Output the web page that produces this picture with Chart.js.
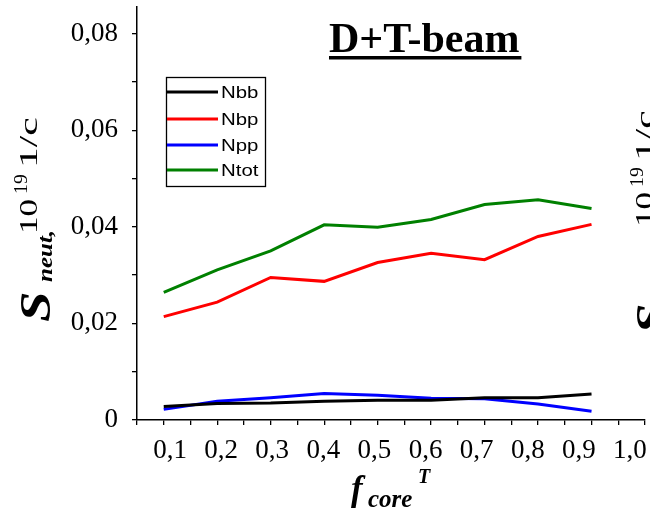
<!DOCTYPE html>
<html>
<head>
<meta charset="utf-8">
<style>
  html, body { margin: 0; padding: 0; background: #fff; }
  #wrap { width: 650px; height: 513px; }
</style>
<script src="https://cdn.jsdelivr.net/npm/chart.js@4.4.0/dist/chart.umd.min.js"></script>
</head>
<body>
<div id="wrap"><canvas id="chart" width="650" height="513"></canvas></div>
<script>
// f_core^T values (x) and neutron source components
const fCore = [0.1, 0.2, 0.3, 0.4, 0.5, 0.6, 0.7, 0.8, 0.9];
const nbb  = [0.0028, 0.0034, 0.0035, 0.0039, 0.0041, 0.0041, 0.0046, 0.0046, 0.0054];
const nbp  = [0.0214, 0.0244, 0.0295, 0.0287, 0.0326, 0.0345, 0.0332, 0.0380, 0.0405];
const npp  = [0.0022, 0.0039, 0.0046, 0.0055, 0.0051, 0.0045, 0.0044, 0.0033, 0.0018];
const ntot = [0.0264, 0.0311, 0.0350, 0.0404, 0.0399, 0.0415, 0.0446, 0.0456, 0.0438];

const seriesNames = ['Nbb', 'Nbp', 'Npp', 'Ntot'];
const seriesColors = ['#000000', '#ff0000', '#0000ff', '#008000'];
const seriesValues = [nbb, nbp, npp, ntot];

const serif = '"Liberation Serif", "Times New Roman", serif';
const sans = '"Liberation Sans", Arial, sans-serif';

function toPoints(vals) {
  return fCore.map((x, i) => ({ x: x, y: vals[i] }));
}

// draws text rotated -90deg, starting at (x, y) and going upward
function rotText(ctx, text, font, x, y, sx) {
  ctx.save();
  ctx.translate(x, y);
  ctx.rotate(-Math.PI / 2);
  ctx.scale(sx, 1);
  ctx.font = font;
  ctx.textAlign = 'left';
  ctx.textBaseline = 'alphabetic';
  ctx.fillStyle = '#000';
  ctx.fillText(text, 0, 0);
  ctx.restore();
}

function drawYTitle(ctx, dx, dy, dyS) {
  rotText(ctx, 'S', 'italic bold 44px ' + serif, 50 + dx, 322 + dy + dyS, 1.25);
  rotText(ctx, 'neut,', 'italic bold 20px ' + serif, 52 + dx, 282 + dy, 1.25);
  rotText(ctx, '10', '25px ' + serif, 37 + dx, 234 + dy, 1.4);
  rotText(ctx, '19', '18px ' + serif, 27 + dx, 194 + dy, 1.1);
  rotText(ctx, '1/c', '26px ' + serif, 37 + dx, 168 + dy, 1.6);
}

const decorPlugin = {
  id: 'decor',
  afterDraw(chart) {
    const ctx = chart.ctx;
    ctx.save();

    // title
    ctx.fillStyle = '#000';
    ctx.font = 'bold 42px ' + serif;
    ctx.textAlign = 'left';
    ctx.textBaseline = 'alphabetic';
    ctx.fillText('D+T-beam', 329, 52);
    const w = ctx.measureText('D+T-beam').width;
    ctx.fillRect(329, 56, w + 2, 3.5);

    // y title, and the clipped one of the neighbouring panel
    drawYTitle(ctx, 0, 0, 0);
    drawYTitle(ctx, 616, -7, 19);

    // x title f_core^T
    ctx.font = 'italic bold 35px ' + serif;
    ctx.fillText('f', 351, 500);
    ctx.font = 'italic bold 25px ' + serif;
    ctx.fillText('core', 368, 507);
    ctx.font = 'italic bold 20px ' + serif;
    ctx.fillText('T', 418, 483);

    // legend box
    ctx.strokeStyle = '#000';
    ctx.lineWidth = 1.3;
    ctx.strokeRect(166.5, 77.5, 99, 109);
    const rows = [92, 119, 145, 170];
    chart.data.datasets.forEach((ds, i) => {
      ctx.strokeStyle = ds.borderColor;
      ctx.lineWidth = 3;
      ctx.beginPath();
      ctx.moveTo(167, rows[i]);
      ctx.lineTo(218, rows[i]);
      ctx.stroke();
      ctx.save();
      ctx.translate(221, rows[i] + 1);
      ctx.scale(1.2, 1);
      ctx.font = '17px ' + sans;
      ctx.textBaseline = 'middle';
      ctx.fillStyle = '#000';
      ctx.fillText(ds.label, 0, 0);
      ctx.restore();
    });
    ctx.restore();
  }
};

const axisGrid = { drawOnChartArea: false, drawTicks: true, tickLength: 5, color: '#000', lineWidth: 1.3 };

new Chart(document.getElementById('chart'), {
  type: 'line',
  data: {
    datasets: seriesNames.map((name, i) => ({
      label: name,
      data: toPoints(seriesValues[i]),
      borderColor: seriesColors[i],
      backgroundColor: seriesColors[i],
      borderWidth: 3,
      pointRadius: 0,
      tension: 0,
      fill: false
    }))
  },
  options: {
    responsive: false,
    animation: false,
    devicePixelRatio: 1,
    layout: { padding: { top: 7, right: 5, left: 0, bottom: 0 } },
    plugins: {
      legend: { display: false },
      tooltip: { enabled: false }
    },
    scales: {
      // data axis: line + tick marks only
      x: {
        type: 'linear',
        position: 'bottom',
        weight: 0,
        min: 0.05,
        max: 1.0,
        afterFit(scale) {
          scale.height = 5;
          scale.paddingLeft = 0;
          scale.paddingRight = 0;
        },
        grid: axisGrid,
        border: { display: true, color: '#000', width: 1.5 },
        ticks: { display: false, stepSize: 0.05, autoSkip: false, includeBounds: false }
      },
      // label row of the original, set a little tighter than the tick marks
      x2: {
        type: 'linear',
        position: 'bottom',
        weight: 1,
        min: 0.0354,
        max: 1.0294,
        afterFit(scale) {
          scale.height = 88;
          scale.paddingLeft = 0;
          scale.paddingRight = 0;
        },
        grid: { display: false, drawTicks: false },
        border: { display: false },
        ticks: {
          stepSize: 0.1,
          autoSkip: false,
          maxRotation: 0,
          includeBounds: false,
          padding: 10,
          color: '#000',
          font: { family: serif, size: 27 },
          callback(v) {
            return (Math.round(v * 10) / 10).toFixed(1).replace('.', ',');
          }
        }
      },
      y: {
        min: 0,
        max: 0.0855,
        afterFit(scale) {
          scale.width = 137;
          scale.paddingTop = 0;
          scale.paddingBottom = 0;
        },
        grid: axisGrid,
        border: { display: true, color: '#000', width: 1.5 },
        ticks: {
          stepSize: 0.01,
          includeBounds: false,
          padding: 14,
          color: '#000',
          font: { family: serif, size: 27 },
          callback(v) {
            const k = Math.round(v * 100);
            if (k % 2 !== 0) return '';
            return k === 0 ? '0' : (k / 100).toFixed(2).replace('.', ',');
          }
        }
      }
    }
  },
  plugins: [decorPlugin]
});
</script>
</body>
</html>
